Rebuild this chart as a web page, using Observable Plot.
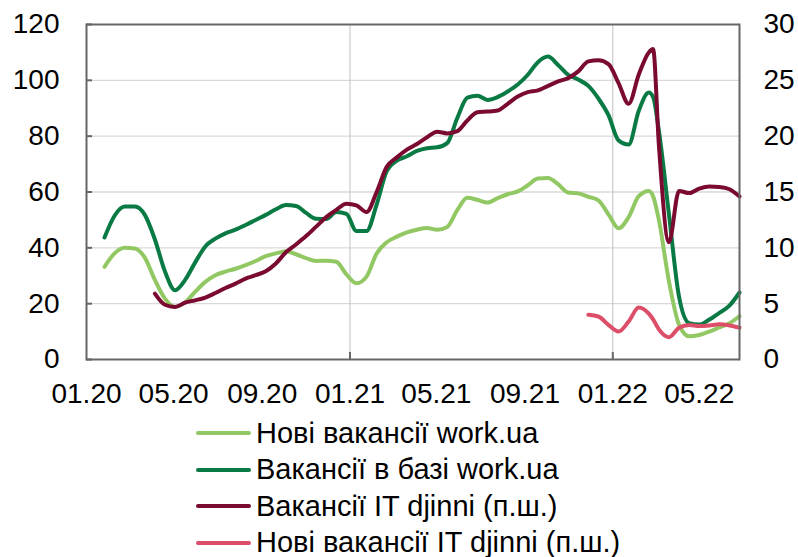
<!DOCTYPE html>
<html>
<head>
<meta charset="utf-8">
<script src="https://cdn.jsdelivr.net/npm/d3@7"></script>
<script src="https://cdn.jsdelivr.net/npm/@observablehq/plot@0.6"></script>
<style>
  html, body { margin: 0; padding: 0; background: #fff; overflow: hidden; }
  body { width: 798px; height: 557px; font-family: "Liberation Sans", Arial, sans-serif; }
  #legend { position: relative; margin-left: 196px; }
  .row { height: 36.5px; display: flex; align-items: center; font-size: 29px; color: #000; white-space: nowrap; }
  .sw { width: 55px; height: 4px; border-radius: 2px; margin-right: 5px; }
</style>
</head>
<body>
<div id="chart"></div>
<div id="legend"></div>
<script>
// Dates (biweekly samples)
const dates = [
  "2020-01-26","2020-02-09","2020-02-23","2020-03-08","2020-03-22","2020-04-05","2020-04-19","2020-05-03",
  "2020-05-17","2020-05-31","2020-06-14","2020-06-28","2020-07-12","2020-07-26","2020-08-09","2020-08-23",
  "2020-09-06","2020-09-20","2020-10-04","2020-10-18","2020-11-01","2020-11-15","2020-11-29","2020-12-13",
  "2020-12-27","2021-01-10","2021-01-24","2021-02-07","2021-02-21","2021-03-07","2021-03-21","2021-04-04",
  "2021-04-18","2021-05-02","2021-05-16","2021-05-30","2021-06-13","2021-06-27","2021-07-11","2021-07-25",
  "2021-08-08","2021-08-22","2021-09-05","2021-09-19","2021-10-03","2021-10-17","2021-10-31","2021-11-14",
  "2021-11-28","2021-12-12","2021-12-26","2022-01-09","2022-01-23","2022-02-06","2022-02-20","2022-02-26",
  "2022-03-06","2022-03-20","2022-04-03","2022-04-17","2022-05-01","2022-05-15","2022-05-29","2022-06-12",
  "2022-06-26"
];

// Нові вакансії work.ua (left axis)
const newWork = [
  33.2,38,40,39.8,36.5,28.5,21.8,18.8,
  20.5,24.3,27.8,30.2,31.5,32.5,33.8,35.3,
  37,38,38.8,37.7,36.3,35.3,35.4,35,
  30.5,27.3,29.7,38,42,44,45.5,46.5,
  47.1,46.5,47.5,53.5,57.9,57.2,56.2,57.8,
  59.2,60.2,62.4,64.8,65,62.8,59.8,59.5,
  58.3,57,52,47,51,58.5,60.4,58.5,
  50,28,12.5,8.3,8.8,10,11.5,13,
  15.5
];

// Вакансії в базі work.ua (left axis)
const baseWork = [
  43.7,51.5,54.8,54.8,51.8,43,31.5,24.8,
  28.5,34.8,40.5,43.3,45.2,46.5,48.2,50,
  51.8,53.8,55.3,55,52.5,50.4,50.3,52.8,
  52.2,46,46,55.5,67.5,71.2,72.8,74.7,
  75.7,76,77.5,86.5,93.8,94.5,93,94,
  96,98.5,102,106.5,108.5,105.5,102,100.3,
  98,93.5,87.5,78.5,77,89,95.6,94,
  82,52,22.5,13,12.5,14.3,16.7,19.3,
  24
];

// Вакансії IT djinni (right axis)
const itDjinni = [
  null,null,null,null,null,5.9,4.9,4.7,
  5.1,5.3,5.55,5.95,6.4,6.8,7.25,7.55,
  7.9,8.6,9.6,10.3,11.05,11.9,12.75,13.4,
  13.95,13.8,13.2,15,17.25,18.1,18.8,19.3,
  19.9,20.4,20.25,20.45,21.4,22.15,22.2,22.3,
  22.9,23.55,23.95,24.1,24.5,24.9,25.2,25.8,
  26.7,26.8,26.45,24.75,22.9,25.5,27.5,27.8,
  19.25,10.5,15.1,14.9,15.3,15.5,15.45,15.25,
  14.6
];

// Нові вакансії IT djinni (right axis)
const newItDjinni = [
  null,null,null,null,null,null,null,null,
  null,null,null,null,null,null,null,null,
  null,null,null,null,null,null,null,null,
  null,null,null,null,null,null,null,null,
  null,null,null,null,null,null,null,null,
  null,null,null,null,null,null,null,null,
  4.0,3.85,3.1,2.5,3.4,4.65,4.1,3.6,
  2.7,2.0,2.85,3.1,3.0,3.05,3.15,3.05,
  2.85
];

const leftTicks = [0, 20, 40, 60, 80, 100, 120];
const rightTickLabels = ["0", "5", "10", "15", "20", "25", "30"];
const xTickDates = ["2020-01-01","2020-05-01","2020-09-01","2021-01-01","2021-05-01","2021-09-01","2022-01-01","2022-05-01"];
const yearDates = ["2021-01-01", "2022-01-01"];

const seriesNames = ["Нові вакансії work.ua", "Вакансії в базі work.ua", "Вакансії IT djinni (п.ш.)", "Нові вакансії IT djinni (п.ш.)"];
const seriesColors = ["#92c864", "#0a7a45", "#7a0a30", "#dd4f68"];
const seriesValues = [newWork, baseWork, itDjinni, newItDjinni];
const rightAxis = [false, false, true, true];
const RATIO = 4; // right axis 0-30 vs left 0-120

const parse = d3.utcParse("%Y-%m-%d");
const fmt = d3.utcFormat("%m.%y");

const rows = [];
seriesValues.forEach((vals, s) => {
  vals.forEach((v, i) => {
    if (v != null) rows.push({series: s, date: parse(dates[i]), y: rightAxis[s] ? v * RATIO : v});
  });
});

const font = "Liberation Sans, Arial, sans-serif";

const chart = Plot.plot({
  width: 798,
  height: 415,
  marginLeft: 86,
  marginRight: 59,
  marginTop: 24,
  marginBottom: 56,
  style: {fontFamily: font, fontSize: "28px", color: "#000", background: "#fff"},
  x: {type: "utc", domain: [parse("2020-01-01"), parse("2022-06-26")]},
  y: {domain: [0, 120]},
  marks: [
    Plot.gridY([20, 40, 60, 80, 100], {stroke: "#d9d9d9", strokeOpacity: 1, strokeWidth: 1.3}),
    Plot.gridX(yearDates.map(parse), {stroke: "#c0c0c0", strokeOpacity: 1, strokeWidth: 1}),
    ...[0, 1, 2, 3].map(s => Plot.line(rows.filter(r => r.series === s), {
      x: "date", y: "y", stroke: seriesColors[s], strokeWidth: 4,
      curve: "monotone-x", strokeLinejoin: "round", strokeLinecap: "round"
    })),
    Plot.frame({stroke: "#666", strokeWidth: 2}),
    Plot.axisY(leftTicks, {anchor: "left", tickSize: -6, tickFormat: () => "", stroke: "#666", strokeWidth: 2, label: null}),
    Plot.axisY(leftTicks, {anchor: "left", tickSize: 0, tickPadding: 27, label: null, fontSize: 28}),
    Plot.axisY(leftTicks, {anchor: "right", tickSize: 0, tickPadding: 24, label: null, fontSize: 28,
      tickFormat: d => rightTickLabels[leftTicks.indexOf(d)]}),
    Plot.axisX(yearDates.map(parse), {anchor: "bottom", tickSize: -7, tickFormat: () => "", stroke: "#666", strokeWidth: 2, label: null}),
    Plot.axisX(xTickDates.map(parse), {anchor: "bottom", tickSize: 0, tickPadding: 24, label: null, fontSize: 28, tickFormat: fmt})
  ]
});
document.getElementById("chart").appendChild(chart);

const legend = document.getElementById("legend");
seriesNames.forEach((name, i) => {
  const row = document.createElement("div");
  row.className = "row";
  const sw = document.createElement("div");
  sw.className = "sw";
  sw.style.background = seriesColors[i];
  const t = document.createElement("span");
  t.textContent = name;
  row.appendChild(sw);
  row.appendChild(t);
  legend.appendChild(row);
});
</script>
</body>
</html>
